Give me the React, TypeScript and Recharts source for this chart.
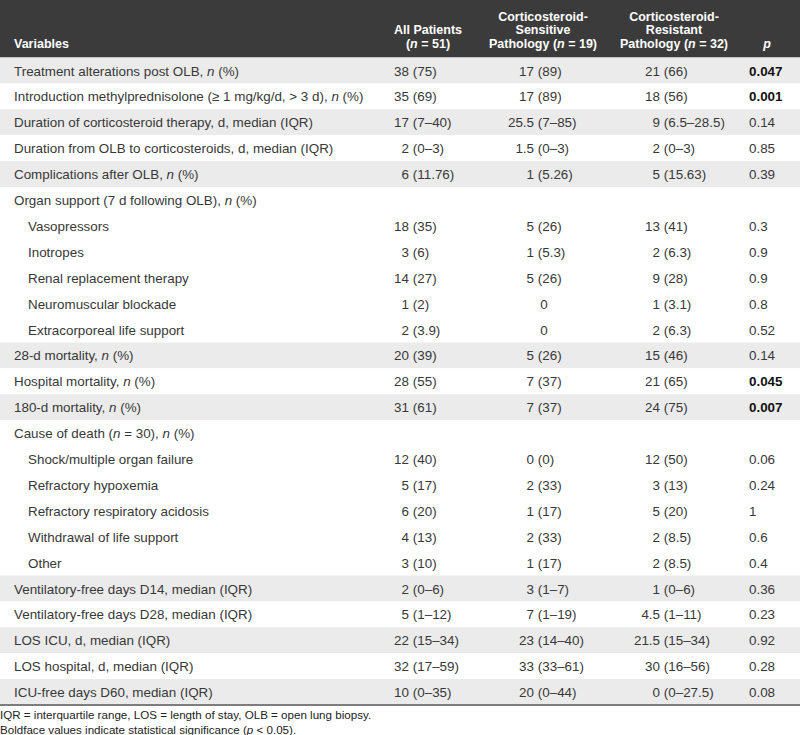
import React from "react";
import { BarChart, Bar, XAxis, YAxis, Cell, LabelList, Customized } from "recharts";

const variables = [
  "Treatment alterations post OLB, n (%)",
  "Introduction methylprednisolone (≥ 1 mg/kg/d, > 3 d), n (%)",
  "Duration of corticosteroid therapy, d, median (IQR)",
  "Duration from OLB to corticosteroids, d, median (IQR)",
  "Complications after OLB, n (%)",
  "Organ support (7 d following OLB), n (%)",
  "Vasopressors",
  "Inotropes",
  "Renal replacement therapy",
  "Neuromuscular blockade",
  "Extracorporeal life support",
  "28-d mortality, n (%)",
  "Hospital mortality, n (%)",
  "180-d mortality, n (%)",
  "Cause of death (n = 30), n (%)",
  "Shock/multiple organ failure",
  "Refractory hypoxemia",
  "Refractory respiratory acidosis",
  "Withdrawal of life support",
  "Other",
  "Ventilatory-free days D14, median (IQR)",
  "Ventilatory-free days D28, median (IQR)",
  "LOS ICU, d, median (IQR)",
  "LOS hospital, d, median (IQR)",
  "ICU-free days D60, median (IQR)",
];

// 0 = top-level variable, 1 = sub item of the row above
const level = [0, 0, 0, 0, 0, 0, 1, 1, 1, 1, 1, 0, 0, 0, 0, 1, 1, 1, 1, 1, 0, 0, 0, 0, 0];

const allPatients = [
  "38 (75)", "35 (69)", "17 (7–40)", "2 (0–3)", "6 (11.76)", "",
  "18 (35)", "3 (6)", "14 (27)", "1 (2)", "2 (3.9)",
  "20 (39)", "28 (55)", "31 (61)", "",
  "12 (40)", "5 (17)", "6 (20)", "4 (13)", "3 (10)",
  "2 (0–6)", "5 (1–12)", "22 (15–34)", "32 (17–59)", "10 (0–35)",
];

const sensitive = [
  "17 (89)", "17 (89)", "25.5 (7–85)", "1.5 (0–3)", "1 (5.26)", "",
  "5 (26)", "1 (5.3)", "5 (26)", "0", "0",
  "5 (26)", "7 (37)", "7 (37)", "",
  "0 (0)", "2 (33)", "1 (17)", "2 (33)", "1 (17)",
  "3 (1–7)", "7 (1–19)", "23 (14–40)", "33 (33–61)", "20 (0–44)",
];

const resistant = [
  "21 (66)", "18 (56)", "9 (6.5–28.5)", "2 (0–3)", "5 (15.63)", "",
  "13 (41)", "2 (6.3)", "9 (28)", "1 (3.1)", "2 (6.3)",
  "15 (46)", "21 (65)", "24 (75)", "",
  "12 (50)", "3 (13)", "5 (20)", "2 (8.5)", "2 (8.5)",
  "1 (0–6)", "4.5 (1–11)", "21.5 (15–34)", "30 (16–56)", "0 (0–27.5)",
];

const pValues = [
  "0.047", "0.001", "0.14", "0.85", "0.39", "",
  "0.3", "0.9", "0.9", "0.8", "0.52",
  "0.14", "0.045", "0.007", "",
  "0.06", "0.24", "1", "0.6", "0.4",
  "0.36", "0.23", "0.92", "0.28", "0.08",
];

const footnotes = [
  "IQR = interquartile range, LOS = length of stay, OLB = open lung biopsy.",
  "Boldface values indicate statistical significance (p < 0.05).",
];

const FONT = '"Liberation Sans", Arial, Helvetica, sans-serif';
const TEXT = "#383838";
const STRIPE = "#ebebeb";
const HEADER_BG = "#3b3b3b";
const FS = 13.4;

// striping follows top-level rows, sub items keep the parent's shade
let top = -1;
const rows = variables.map((v, i) => {
  if (level[i] === 0) top += 1;
  return { variable: v, shade: 1, striped: top % 2 === 0 };
});

// italic for the stat letters n / p
const withItalics = (s: string) =>
  s.split(/(\bn\b|\bp\b)/).map((part, k) =>
    part === "n" || part === "p" ? (
      <tspan key={k} fontStyle="italic">{part}</tspan>
    ) : (
      <tspan key={k}>{part}</tspan>
    )
  );

// number aligned on its leading value, rest follows
const ValueCell: React.FC<{ x: number; y: number; value: string; centerX: number }> = ({ x, y, value, centerX }) => {
  if (!value) return null;
  const sp = value.indexOf(" ");
  if (sp < 0) {
    return (
      <text x={centerX} y={y} textAnchor="middle" fontSize={FS} fill={TEXT} fontFamily={FONT}>{value}</text>
    );
  }
  return (
    <g>
      <text x={x} y={y} textAnchor="end" fontSize={FS} fill={TEXT} fontFamily={FONT}>{value.slice(0, sp)}</text>
      <text x={x + 3.8} y={y} textAnchor="start" fontSize={FS} fill={TEXT} fontFamily={FONT}>{value.slice(sp + 1)}</text>
    </g>
  );
};

const RowLabel = (props: any) => {
  const { y, height, index } = props;
  const i = typeof index === "number" ? index : variables.indexOf(props.value);
  if (i < 0 || i >= variables.length) return null;
  const ty = Number(y) + Number(height) / 2 + 5;
  const p = pValues[i];
  const bold = p !== "" && parseFloat(p) < 0.05;
  return (
    <g>
      <text x={level[i] ? 28 : 14} y={ty} fontSize={FS} fill={TEXT} fontFamily={FONT}>
        {withItalics(variables[i])}
      </text>
      <ValueCell x={409} y={ty} value={allPatients[i]} centerX={428} />
      <ValueCell x={534} y={ty} value={sensitive[i]} centerX={544} />
      <ValueCell x={660} y={ty} value={resistant[i]} centerX={674} />
      {p && (
        <text x={749} y={ty} fontSize={FS} fill={bold ? "#111" : TEXT} fontWeight={bold ? 700 : 400} fontFamily={FONT}>
          {p}
        </text>
      )}
    </g>
  );
};

const HeaderLayer = () => {
  const t = { fontSize: 12.5, fontWeight: 700, fill: "#ffffff", fontFamily: FONT, textAnchor: "middle" as const };
  return (
    <g>
      <rect x={0} y={0} width={800} height={57.5} fill={HEADER_BG} />
      <text {...t} x={14} y={47.5} textAnchor="start">Variables</text>
      <text {...t} x={428} y={34}>All Patients</text>
      <text {...t} x={428} y={47.5}>{withItalics("(n = 51)")}</text>
      <text {...t} x={543} y={21}>Corticosteroid-</text>
      <text {...t} x={543} y={34}>Sensitive</text>
      <text {...t} x={543} y={47.5}>{withItalics("Pathology (n = 19)")}</text>
      <text {...t} x={674} y={21}>Corticosteroid-</text>
      <text {...t} x={674} y={34}>Resistant</text>
      <text {...t} x={674} y={47.5}>{withItalics("Pathology (n = 32)")}</text>
      <text {...t} x={767} y={47.5} fontStyle="italic">p</text>
      {footnotes.map((f, k) => (
        <text key={k} x={0} y={719 + k * 15} fontSize={11.6} fill="#222" fontFamily={FONT}>
          {withItalics(f)}
        </text>
      ))}
    </g>
  );
};

export default function App() {
  return (
    <div style={{ position: "absolute", left: 0, top: 0, background: "#fff" }}>
      <BarChart
        width={800}
        height={735}
        data={rows}
        layout="vertical"
        margin={{ top: 57.5, right: 0, bottom: 29, left: 0 }}
        barCategoryGap={0}
      >
        <XAxis
          type="number"
          domain={[0, 1]}
          height={1}
          tick={false}
          tickLine={false}
          axisLine={{ stroke: "#7d7d7d", strokeWidth: 2 }}
        />
        <YAxis type="category" dataKey="variable" hide />
        <Bar dataKey="shade" isAnimationActive={false} activeBar={false}>
          {rows.map((r, i) => (
            <Cell key={i} fill={r.striped ? STRIPE : "#ffffff"} />
          ))}
          <LabelList dataKey="variable" content={RowLabel} />
        </Bar>
        <Customized component={HeaderLayer} />
      </BarChart>
    </div>
  );
}
